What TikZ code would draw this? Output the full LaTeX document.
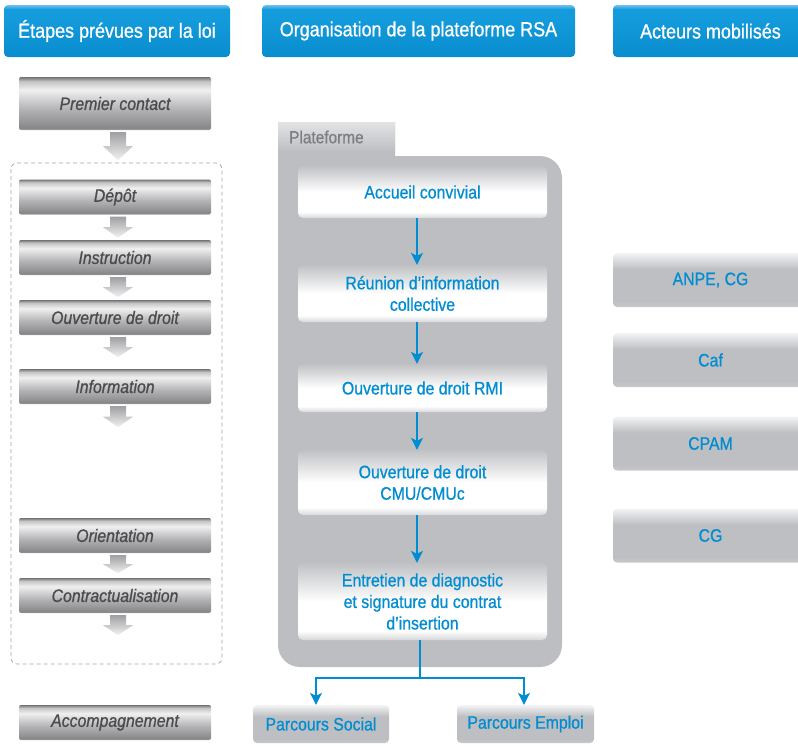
\documentclass[tikz,border=0pt]{standalone}
\usepackage{fontspec}
\setmainfont{Liberation Sans}[FakeStretch=0.88,FakeBold=0.8]
\usetikzlibrary{arrows.meta,calc}
\definecolor{hb1}{RGB}{110,195,238}
\definecolor{hb2}{RGB}{20,155,220}
\definecolor{hb3}{RGB}{8,140,205}
\definecolor{tblue}{RGB}{0,141,210}
\definecolor{ltext}{RGB}{75,75,78}
\definecolor{platgray}{RGB}{189,190,193}
\definecolor{plattop}{RGB}{226,227,229}
\definecolor{plattext}{RGB}{125,126,129}
\definecolor{m0}{RGB}{165,165,168}
\definecolor{m1}{RGB}{135,135,138}
\definecolor{m2}{RGB}{180,180,183}
\definecolor{m3}{RGB}{240,240,240}
\definecolor{m4}{RGB}{195,195,197}
\definecolor{m5}{RGB}{115,115,118}
\definecolor{a0}{RGB}{200,201,204}
\definecolor{a1}{RGB}{190,191,194}
\definecolor{a2}{RGB}{225,226,228}
\definecolor{a3}{RGB}{245,245,246}
\definecolor{w0}{RGB}{215,216,218}
\definecolor{w3}{RGB}{192,193,196}
\definecolor{ga1}{RGB}{160,160,163}
\definecolor{ga2}{RGB}{242,242,242}
\definecolor{dashgray}{RGB}{163,163,163}
\pgfdeclareverticalshading{hdrblue}{100bp}{color(0bp)=(hb3); color(25bp)=(hb3); color(62bp)=(hb2); color(71bp)=(hb2); color(75bp)=(hb1); color(100bp)=(hb1)}
\pgfdeclareverticalshading{metal}{100bp}{color(0bp)=(m0); color(25bp)=(m0); color(27bp)=(m1); color(45bp)=(m2); color(63bp)=(m3); color(71bp)=(m4); color(75bp)=(m5); color(100bp)=(m5)}
\pgfdeclareverticalshading{actor}{100bp}{color(0bp)=(a0); color(25bp)=(a0); color(30bp)=(a1); color(60bp)=(a1); color(70bp)=(a2); color(75bp)=(a3); color(100bp)=(a3)}
\pgfdeclareverticalshading{wbox}{100bp}{color(0bp)=(w0); color(25bp)=(w0); color(31bp)=(white); color(50bp)=(white); color(75bp)=(w3); color(100bp)=(w3)}
\newcommand\garrow[2]{%
  \shade[top color=ga1, bottom color=ga2]
    let \p1=($(#1.south)+(3pt,-2pt)$) in
    (\x1-8pt,\y1) -- (\x1+8pt,\y1) -- (\x1+8pt,\y1-0.5*#2pt) -- (\x1+15pt,\y1-0.5*#2pt)
    -- (\x1,\y1-#2pt) -- (\x1-15pt,\y1-0.5*#2pt) -- (\x1-8pt,\y1-0.5*#2pt) -- cycle;}
\begin{document}
\begin{tikzpicture}[x=1pt,y=1pt,
  hdr/.style={shading=hdrblue, rounded corners=4pt, text=white, font=\fontsize{20.4}{22}\selectfont, minimum height=52pt, inner sep=0pt},
  lbox/.style={shading=metal, rounded corners=2pt, text=ltext, font=\itshape\fontsize{18}{20}\selectfont, minimum width=192pt, minimum height=35pt, inner sep=0pt},
  abox/.style={shading=actor, rounded corners=4pt, text=tblue, font=\fontsize{18}{20}\selectfont, minimum width=195pt, minimum height=54pt, inner sep=0pt},
  pbox/.style={shading=actor, rounded corners=4pt, text=tblue, font=\fontsize{18}{20}\selectfont, minimum height=38pt, inner sep=0pt},
  wbx/.style={shading=wbox, rounded corners=5pt, text=tblue, font=\fontsize{18}{21.5}\selectfont, align=center, minimum width=249pt, inner sep=0pt},
  barrow/.style={draw=tblue, line width=1.4pt, -{Stealth[length=12pt,width=12pt,inset=3pt]}},
  bline/.style={draw=tblue, line width=1.4pt}]
\useasboundingbox (0,0) rectangle (798,-747);
% headers
\node[hdr, minimum width=226pt] (h1) at (117,-31) {Étapes prévues par la loi};
\node[hdr, minimum width=313pt] (h2) at (418.5,-31) {Organisation de la plateforme RSA};
\node[hdr, minimum width=195pt] (h3) at (710.5,-31) {Acteurs mobilisés};
% left column
\draw[dashgray, line width=0.7pt, dash pattern=on 4pt off 3pt, rounded corners=6pt] (11,-163) rectangle (222,-664);
\node[lbox, minimum height=53pt] (pc) at (115,-103.5) {Premier contact};
\node[lbox] (dep) at (115,-197) {Dépôt};
\node[lbox] (ins) at (115,-257.5) {Instruction};
\node[lbox] (ouv) at (115,-317.5) {Ouverture de droit};
\node[lbox] (inf) at (115,-386.5) {Information};
\node[lbox] (ori) at (115,-535.5) {Orientation};
\node[lbox] (con) at (115,-595.5) {Contractualisation};
\node[lbox] (acm) at (115,-722.5) {Accompagnement};
\garrow{pc}{28}
\garrow{dep}{21}
\garrow{ins}{20}
\garrow{ouv}{20}
\garrow{inf}{21}
\garrow{ori}{18}
\garrow{con}{20}
% platform
\fill[platgray] (278,-122) -- (395,-122) -- (395,-156) -- (540,-156)
  arc[start angle=90, end angle=0, radius=22] -- (562,-645)
  arc[start angle=0, end angle=-90, radius=22] -- (300,-667)
  arc[start angle=270, end angle=180, radius=22] -- cycle;
\shade[top color=plattop, bottom color=platgray] (278,-122) rectangle (395,-152);
\node[anchor=west, text=plattext, font=\fontsize{17.5}{20}\selectfont, inner sep=0pt] (plt) at (289,-137) {Plateforme};
\node[wbx, minimum height=52pt] (acc) at (422.5,-192) {Accueil convivial};
\node[wbx, minimum height=57pt] (reu) at (422.5,-293.5) {Réunion d’information\\collective};
\node[wbx, minimum height=48pt] (rmi) at (422.5,-388) {Ouverture de droit RMI};
\node[wbx, minimum height=65pt] (cmu) at (422.5,-482.5) {Ouverture de droit\\CMU/CMUc};
\node[wbx, minimum height=77pt] (ent) at (422.5,-601.5) {Entretien de diagnostic\\et signature du contrat\\d’insertion};
\coordinate (ax) at (417,0);
\draw[barrow] (acc.south -| ax) -- (reu.north -| ax);
\draw[barrow] (reu.south -| ax) -- (rmi.north -| ax);
\draw[barrow] (rmi.south -| ax) -- (cmu.north -| ax);
\draw[barrow] (cmu.south -| ax) -- (ent.north -| ax);
% outputs
\node[pbox, minimum width=136pt] (ps) at (321,-724) {Parcours Social};
\node[pbox, minimum width=137pt] (pe) at (525.5,-724) {Parcours Emploi};
\coordinate (split) at (420,-678);
\coordinate (psx) at (316,0);
\coordinate (pex) at (524,0);
\draw[bline] (ent.south -| split) -- (split);
\draw[barrow] (split) -| (ps.north -| psx);
\draw[barrow] (split) -| (pe.north -| pex);
% actors
\node[abox] (anpe) at (710.5,-280) {ANPE, CG};
\node[abox] (caf) at (710.5,-360) {Caf};
\node[abox] (cpam) at (710.5,-443.5) {CPAM};
\node[abox] (cg) at (710.5,-535.5) {CG};
\end{tikzpicture}
\end{document}
